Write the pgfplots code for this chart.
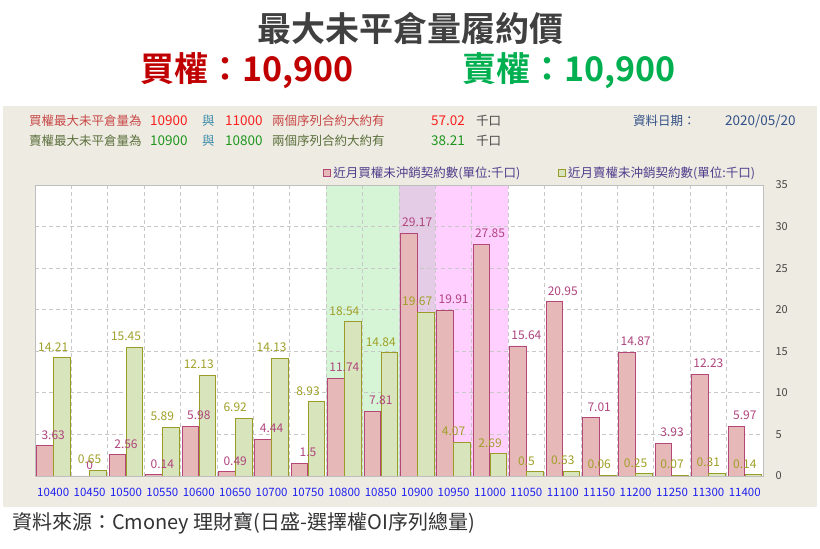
\documentclass[border=0pt]{standalone}
\usepackage{fontspec}
\setmainfont{Noto Sans CJK TC}[BoldFont={Noto Sans CJK TC Bold}]
\usepackage{pgfplots}
\pgfplotsset{compat=1.18}

\definecolor{panelbg}{RGB}{238,235,226}
\definecolor{titlegray}{RGB}{64,64,64}
\definecolor{callred}{RGB}{192,0,0}
\definecolor{putgreen}{RGB}{0,176,80}
\definecolor{hdrred}{RGB}{200,72,72}
\definecolor{numred}{RGB}{250,30,30}
\definecolor{hdrgreen}{RGB}{90,112,60}
\definecolor{numgreen}{RGB}{30,150,30}
\definecolor{tealc}{RGB}{60,140,170}
\definecolor{darkc}{RGB}{70,70,70}
\definecolor{datec}{RGB}{50,80,135}
\definecolor{legtext}{RGB}{80,60,140}
\definecolor{shgreen}{RGB}{214,245,214}
\definecolor{shpurple}{RGB}{228,204,230}
\definecolor{shpink}{RGB}{255,208,255}
\definecolor{pinkfill}{RGB}{230,184,184}
\definecolor{pinkdraw}{RGB}{180,70,120}
\definecolor{pinklab}{RGB}{176,68,126}
\definecolor{grnfill}{RGB}{216,228,188}
\definecolor{grndraw}{RGB}{155,155,40}
\definecolor{grnlab}{RGB}{160,160,40}
\definecolor{gridc}{RGB}{200,200,200}
\definecolor{framec}{RGB}{190,190,190}
\definecolor{xtickc}{RGB}{32,32,240}

% call OI, put OI (thousand contracts), strikes 10400..11400
\pgfplotstableread{
x call put
0  3.63  14.21
1  0     0.65
2  2.56  15.45
3  0.14  5.89
4  5.98  12.13
5  0.49  6.92
6  4.44  14.13
7  1.5   8.93
8  11.74 18.54
9  7.81  14.84
10 29.17 19.67
11 19.91 4.07
12 27.85 2.69
13 15.64 0.5
14 20.95 0.53
15 7.01  0.06
16 14.87 0.25
17 3.93  0.07
18 12.23 0.31
19 5.97  0.14
}\oidata

\newcommand{\hdr}[4]{\node[anchor=west, inner sep=0pt, text=#2, font=\fontsize{#3}{#3}\selectfont] at #1 {#4};}

\begin{document}
\begin{tikzpicture}[x=1pt,y=1pt]
\path[use as bounding box, fill=white] (0,0) rectangle (820,549);
\fill[panelbg] (3,42) rectangle (817,443);
\fill[white] (35,73) rectangle (763,364);
% highlighted strike ranges
\fill[shgreen] (326.2,73) rectangle (399,364);
\fill[shpurple] (399,73) rectangle (435.4,364);
\fill[shpink] (435.4,73) rectangle (508.2,364);

\node[font=\fontsize{34}{40}\selectfont\bfseries, text=titlegray] at (410,521) {最大未平倉量履約價};
\node[anchor=west, inner sep=0pt, font=\fontsize{34}{40}\selectfont\bfseries, text=callred] at (140,478) {買權：10,900};
\node[anchor=west, inner sep=0pt, font=\fontsize{34}{40}\selectfont\bfseries, text=putgreen] at (462,478) {賣權：10,900};

\hdr{(29,428)}{hdrred}{12.5}{買權最大未平倉量為}
\hdr{(150,428)}{numred}{13.5}{10900}
\hdr{(202,428)}{tealc}{12.5}{與}
\hdr{(225,428)}{numred}{13.5}{11000}
\hdr{(272,428)}{hdrred}{12.5}{兩個序列合約大約有}
\hdr{(431,428)}{numred}{13.5}{57.02}
\hdr{(476,428)}{darkc}{12.5}{千口}
\hdr{(633,428)}{datec}{12.5}{資料日期：}
\hdr{(725,428)}{datec}{13.5}{2020/05/20}
\hdr{(29,408)}{hdrgreen}{12.5}{賣權最大未平倉量為}
\hdr{(150,408)}{numgreen}{13.5}{10900}
\hdr{(202,408)}{tealc}{12.5}{與}
\hdr{(225,408)}{numgreen}{13.5}{10800}
\hdr{(272,408)}{hdrgreen}{12.5}{兩個序列合約大約有}
\hdr{(431,408)}{numgreen}{13.5}{38.21}
\hdr{(476,408)}{darkc}{12.5}{千口}

\node[anchor=west, inner sep=0pt, font=\fontsize{20}{22}\selectfont, text={rgb,255:red,51;green,51;blue,51}] at (12,26) {資料來源：Cmoney 理財寶(日盛-選擇權OI序列總量)};

\begin{axis}[
    at={(35pt,73pt)}, anchor=south west,
    scale only axis, width=728pt, height=291pt,
    xmin=-0.5, xmax=19.5, ymin=0, ymax=35,
    xtick={0,...,19},
    xticklabels={10400,10450,10500,10550,10600,10650,10700,10750,10800,10850,10900,10950,11000,11050,11100,11150,11200,11250,11300,11400},
    minor xtick={-0.5,0.5,...,19.5},
    ytick={0,5,...,35},
    yticklabel pos=right,
    major tick length=0, minor tick length=0,
    xminorgrids, ymajorgrids,
    grid style={draw=gridc, line width=0.9pt, dash pattern=on 4pt off 3pt},
    minor grid style={draw=gridc, line width=0.9pt, dash pattern=on 4pt off 3pt},
    axis line style={draw=framec, line width=0.9pt},
    xticklabel style={font=\fontsize{11.5}{12}\selectfont, text=xtickc, yshift=-9pt},
    yticklabel style={font=\fontsize{11}{12}\selectfont, text=darkc, xshift=9pt},
    /pgf/number format/.cd, fixed, precision=2, assume math mode=true, /pgfplots/.cd,
    legend columns=2,
    legend style={draw=none, fill=none, at={(0.694,1.041)}, anchor=center,
        font=\fontsize{12.5}{13}\selectfont, text=legtext,
        /tikz/every even column/.append style={column sep=36pt}},
]
\addplot[ybar, bar width=16.5pt, bar shift=-8.5pt, fill=pinkfill, draw=pinkdraw, line width=0.9pt,
    nodes near coords,
    nodes near coords style={font=\fontsize{12}{12}\selectfont, text=pinklab, inner sep=0.5pt, yshift=5.5pt},
    legend image code/.code={\draw[fill=pinkfill, draw=pinkdraw, line width=0.9pt] (0pt,-3.5pt) rectangle (7pt,3.5pt);}]
    table[x=x, y=call] {\oidata};
\addlegendentry{近月買權未沖銷契約數(單位:千口)}
\addplot[ybar, bar width=16.5pt, bar shift=8.5pt, fill=grnfill, draw=grndraw, line width=0.9pt,
    nodes near coords,
    nodes near coords style={font=\fontsize{12}{12}\selectfont, text=grnlab, inner sep=0.5pt, yshift=5.5pt},
    legend image code/.code={\draw[fill=grnfill, draw=grndraw, line width=0.9pt] (0pt,-3.5pt) rectangle (7pt,3.5pt);}]
    table[x=x, y=put] {\oidata};
\addlegendentry{近月賣權未沖銷契約數(單位:千口)}
\end{axis}
\end{tikzpicture}
\end{document}
